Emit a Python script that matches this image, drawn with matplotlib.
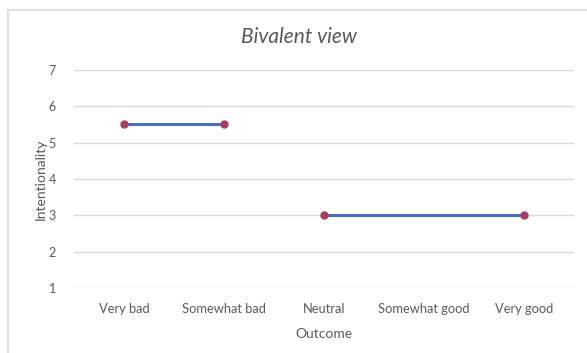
import matplotlib.pyplot as plt
import numpy as np
from matplotlib.patches import Rectangle

plt.rcParams['font.family'] = ['Lato', 'DejaVu Sans']

# Outcome categories and intentionality ratings
outcomes = ['Very bad', 'Somewhat bad', 'Neutral', 'Somewhat good', 'Very good']
bad_x = [0, 1]
bad_y = [5.5, 5.5]
good_x = [2, 4]
good_y = [3, 3]
yticks = [1, 2, 3, 4, 5, 6, 7]

fig = plt.figure(figsize=(5.87, 3.53), dpi=100)
ax = fig.add_axes([0.126, 0.184, 0.852, 0.618])

# chart frame (only top and left edges fall inside the image)
fig.patches.append(Rectangle((8 / 587, -0.05), 1.2, 1 - 10 / 353 + 0.05,
                             transform=fig.transFigure, fill=False,
                             edgecolor='#d9d9d9', linewidth=1.2))

line_c = '#4a6fbf'
mark_c = '#a3405f'
for xs, ys in [(bad_x, bad_y), (good_x, good_y)]:
    ax.plot(xs, ys, color=line_c, linewidth=2.2, zorder=3)
    ax.plot(xs, ys, 'o', color=mark_c, markersize=5, zorder=4)

ax.set_xlim(-0.5, 4.5)
ax.set_ylim(1, 7)
ax.set_yticks(yticks)
ax.set_xticks(range(len(outcomes)))
ax.set_xticklabels(outcomes)
ax.grid(axis='y', color='#d9d9d9', linewidth=1)
ax.set_axisbelow(True)
for s in ax.spines.values():
    s.set_visible(False)
ax.tick_params(axis='x', length=0, labelsize=9.3, labelcolor='#595959', pad=11)
ax.tick_params(axis='y', length=0, labelsize=9, labelcolor='#595959', pad=13)

fig.text(0.509, 0.895, 'Bivalent view', fontsize=15, style='italic',
         color='#595959', ha='center', va='center')
ax.set_xlabel('Outcome', fontsize=10, color='#595959', labelpad=9)
ax.set_ylabel('Intentionality', fontsize=10, color='#595959')
ax.yaxis.set_label_coords(-0.054, 0.5)

fig.savefig('out.png', dpi=100)
